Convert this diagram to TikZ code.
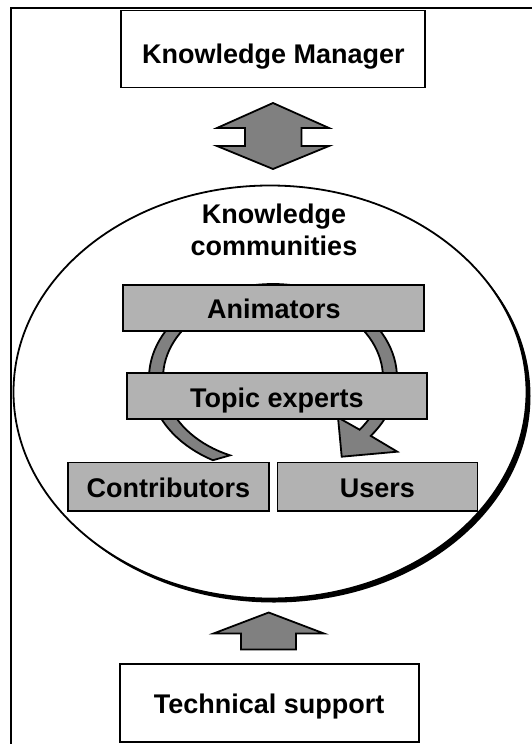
\documentclass[tikz,border=0pt]{standalone}
\usepackage{fontspec}
\setmainfont{Liberation Sans}
\usetikzlibrary{shapes.geometric,shadows}
\definecolor{boxgray}{RGB}{178,178,178}
\definecolor{arrowgray}{RGB}{128,128,128}
\begin{document}
\begin{tikzpicture}[x=1pt,y=-1pt,
  lblfont/.style={font=\fontsize{27}{32.4}\selectfont\bfseries},
  boxbase/.style={draw=black, line width=1.9pt, lblfont, inner sep=0pt,
    text height=27pt, text depth=5pt, rectangle},
  whitebox/.style={boxbase, fill=white},
  graybox/.style={boxbase, fill=boxgray},
  blockarrow/.style={draw=black, line width=1.8pt, fill=arrowgray, line join=miter},
]
\useasboundingbox (0,0) rectangle (532,744);
\fill[white] (0,0) rectangle (532,744);

% frame (only top and left edges visible)
\draw[line width=2.2pt] (11,744) -- (11,8) -- (532,8);

% top and bottom boxes
\node[whitebox, minimum width=304pt, minimum height=77pt, text height=34pt, text depth=5.4pt]
  (km) at (273.4,49) {Knowledge Manager};
\node[whitebox, minimum width=299pt, minimum height=78pt]
  (ts) at (269.2,702.8) {Technical support};

% community ellipse with shadow
\node[ellipse, draw=black, line width=1.8pt, fill=white, minimum width=513pt, minimum height=413pt,
  drop shadow={shadow xshift=4pt, shadow yshift=-4pt, fill=black, opacity=1}]
  (kc) at (270,392) {};
\node[lblfont, align=center, inner sep=0pt, anchor=north] (kctitle) at (274,203.5)
  {Knowledge\\communities};

% double block arrow between manager and communities
\draw[blockarrow] (273,103) -- (329,128) -- (301.5,128) -- (301.5,146) -- (329,146)
  -- (273,169) -- (217,146) -- (245,146) -- (245,128) -- (217,128) -- cycle;

% up block arrow from technical support
\draw[blockarrow] (268.7,612.5) -- (324,633.5) -- (296,633.5) -- (296,649.5)
  -- (241,649.5) -- (241,633.5) -- (213.5,633.5) -- cycle;

% circular arrow (behind the boxes)
\draw[blockarrow]
  plot[domain=119:398,samples=90] ({273+124*cos(\x)},{378+94*sin(\x)})
  -- (397.3,451.7) -- (341.7,456.7) -- (338,417.5)
  -- plot[domain=398:113,samples=90] ({273+110*cos(\x)},{378+84*sin(\x)})
  -- cycle;

% role boxes
\node[graybox, minimum width=301pt, minimum height=46.5pt] (anim) at (273.9,307.9) {Animators};
\node[graybox, minimum width=300.5pt, minimum height=46pt] (topic) at (276.8,396.4) {Topic experts};
\node[graybox, minimum width=200.5pt, minimum height=48.5pt] (contrib) at (168.3,486.7) {Contributors};
\node[graybox, minimum width=200pt, minimum height=48.5pt] (users) at (377.5,486.7) {Users};
\end{tikzpicture}
\end{document}
